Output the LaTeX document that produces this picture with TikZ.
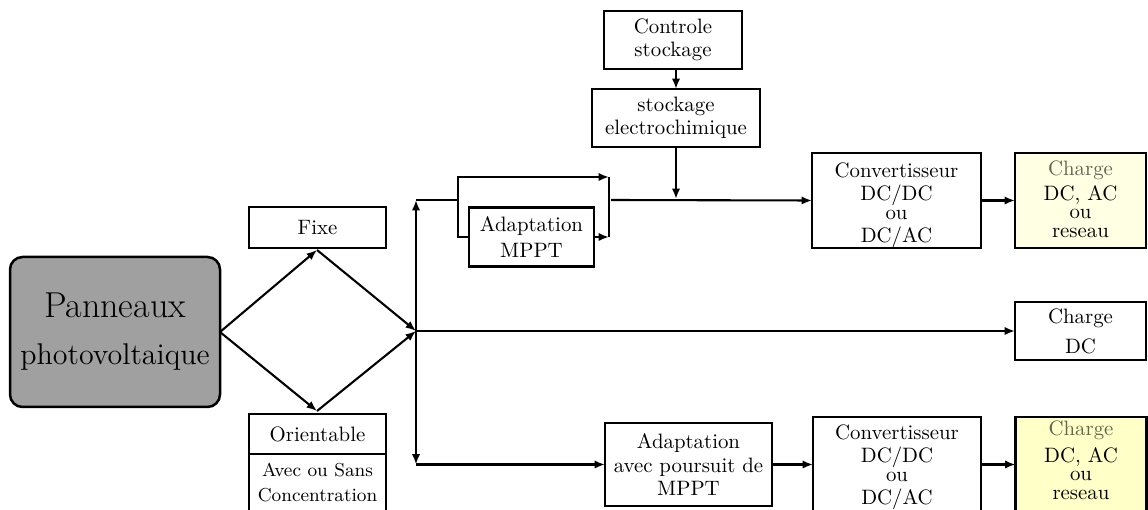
\documentclass[tikz,border=0pt]{standalone}
\usetikzlibrary{arrows.meta,calc}
\definecolor{panfill}{RGB}{160,160,160}
\definecolor{chtxt}{RGB}{100,100,80}
\definecolor{chfillA}{RGB}{255,255,228}
\definecolor{chfillB}{RGB}{255,255,200}
\begin{document}
\begin{tikzpicture}[x=0.48pt,y=-0.48pt,
  box/.style={draw,line width=1.2pt,inner sep=0pt,outer sep=0pt,align=center,font=\normalsize},
  sz/.style 2 args={minimum width=#1*0.48pt,minimum height=#2*0.48pt},
  conn/.style={line width=1pt,-{Latex[length=5pt,width=4pt]}},
  ln/.style={line width=1pt}]
\useasboundingbox (0,0) rectangle (1148,510);

% nodes
\node[box,sz={210}{150},rounded corners=6pt,fill=panfill,font=\Large] (pan) at (115,332) {{\LARGE Panneaux}\\[4.6pt]photovoltaique};
\node[box,sz={137}{41}] (fixe) at (317.5,227.5) {Fixe};
\node[box,sz={137}{40}] (orient) at (317.5,434) {Orientable};
\node[box,sz={137}{70},anchor=north,font=\small,text depth=6.8pt] (avec) at (orient.south) {Avec ou Sans\\[1pt]Concentration};
\node[box,sz={125}{59}] (adm) at (531.5,237) {Adaptation\\[0.5pt]MPPT};
\node[box,sz={138}{58}] (ctrl) at (673,40) {Controle\\[-1pt]stockage};
\node[box,sz={168}{58}] (stock) at (676,118) {stockage\\[-1pt]electrochimique};
\node[box,sz={169}{95}] (conv1) at (896.5,200.5) {\rule{0pt}{12pt}Convertisseur\\[-1pt]DC/DC\\[-2.8pt]ou\\[-1pt]DC/AC};
\node[box,sz={131}{95},fill=chfillA,text depth=1pt] (ch1) at (1080.5,200.5) {\textcolor{chtxt}{Charge}\\[0pt]DC, AC\\[-3.4pt]ou\\[-2.8pt]reseau};
\node[box,sz={131}{58}] (chdc) at (1080.5,331) {Charge\\[2.4pt]DC};
\node[box,sz={167}{83}] (adp) at (688.5,464.5) {Adaptation\\[-0.5pt]avec poursuit de\\[-1pt]MPPT};
\node[box,sz={168}{100}] (conv2) at (897,467) {Convertisseur\\[-1pt]DC/DC\\[-2.8pt]ou\\[-1pt]DC/AC};
\node[box,sz={131}{100},fill=chfillB,text depth=6.8pt] (ch2) at (1081,467) {\textcolor{chtxt}{Charge}\\[1pt]DC, AC\\[-3.4pt]ou\\[-2.8pt]reseau};

% coordinates
\coordinate (dt) at (317,250);
\coordinate (db) at (317,411);
\coordinate (jn) at (416,331);
\coordinate (jt) at (416,200);
\coordinate (jb) at (416,464.5);
\coordinate (bl) at (458,200);
\coordinate (blt) at (458,177);
\coordinate (blb) at (458,237);
\coordinate (brt) at (609,177);
\coordinate (brb) at (609,237);
\coordinate (br) at (611,200);
\coordinate (sj) at (676,199);

% connectors
\draw[conn] (pan.east) -- (dt);
\draw[conn] (pan.east) -- (db);
\draw[conn] (dt) -- (jn);
\draw[conn] (db) -- (jn);
\draw[conn] (jn) -- (jt);
\draw[conn] (jn) -- (jb);
\draw[ln] (jt) -- (bl);
\draw[conn] (bl) -- (blt) -- (brt);
\draw[ln] (bl) -- (blb) -- (adm.west);
\draw[conn] (adm.east) -- (brb);
\draw[ln] (brt) -- (brb);
\draw[conn] (br) -- (conv1.west);
\draw[conn] (stock.north |- ctrl.south) -- (stock.north);
\draw[conn] (stock.south) -- (sj);
\draw[conn] (conv1.east) -- (ch1.west);
\draw[conn] (jn) -- (chdc.west);
\draw[conn] (jb) -- (adp.west);
\draw[conn] (adp.east) -- (conv2.west |- adp.east);
\draw[conn] (conv2.east |- adp.east) -- (ch2.west |- adp.east);
\end{tikzpicture}
\end{document}
